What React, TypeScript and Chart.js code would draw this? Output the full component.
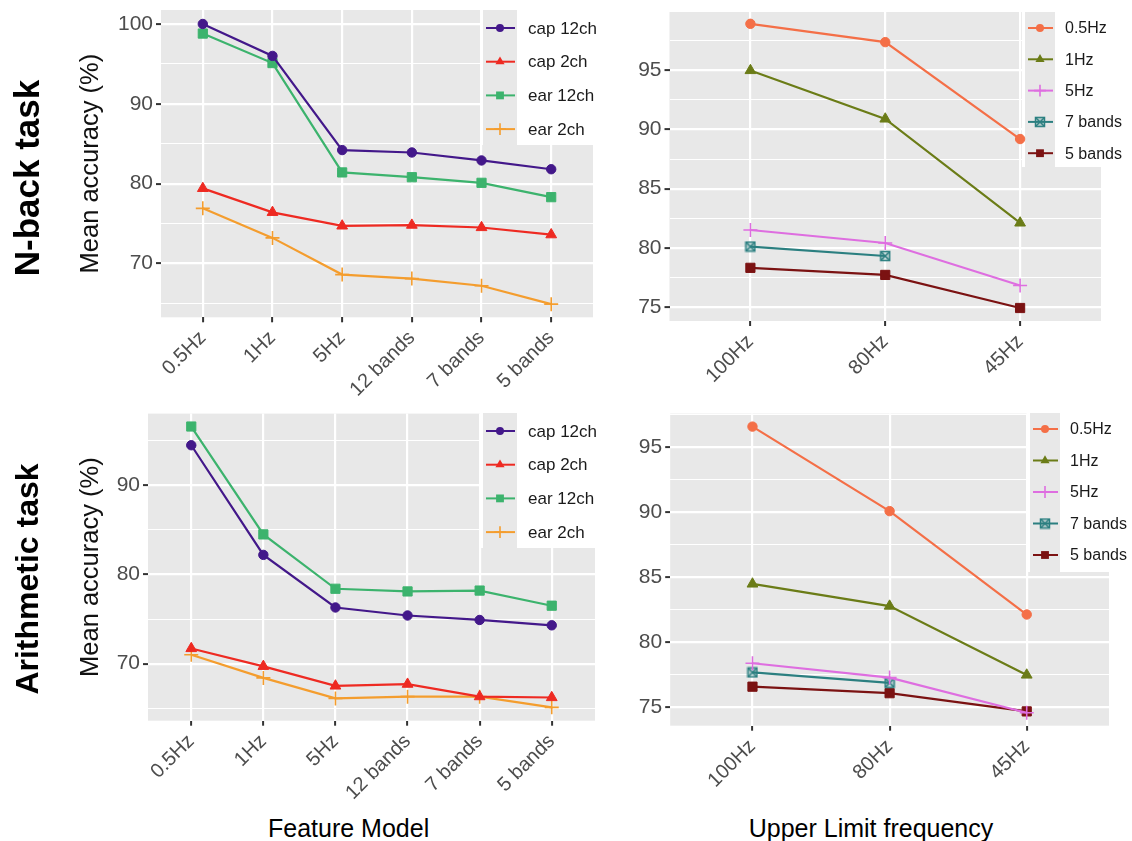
import React, { useEffect, useRef } from 'react';
import { Chart, registerables } from 'chart.js';

Chart.register(...registerables);

// ---------------- data ----------------
const FEATURE_MODELS = ['0.5Hz', '1Hz', '5Hz', '12 bands', '7 bands', '5 bands'];
const UPPER_LIMITS = ['100Hz', '80Hz', '45Hz'];

const CHANNEL_SERIES = ['cap 12ch', 'cap 2ch', 'ear 12ch', 'ear 2ch'];
const BAND_SERIES = ['0.5Hz', '1Hz', '5Hz', '7 bands', '5 bands'];

// N-back task, by feature model
const nbackCap12 = [100.0, 96.0, 84.2, 83.9, 82.9, 81.8];
const nbackCap2 = [79.4, 76.4, 74.7, 74.8, 74.5, 73.6];
const nbackEar12 = [98.8, 95.1, 81.4, 80.8, 80.1, 78.3];
const nbackEar2 = [76.9, 73.2, 68.6, 68.1, 67.2, 64.9];

// N-back task, by upper limit frequency
const nback05Hz = [98.95, 97.4, 89.2];
const nback1Hz = [95.0, 90.9, 82.1];
const nback5Hz = [81.5, 80.4, 76.8];
const nback7Bands = [80.1, 79.3, null];
const nback5Bands = [78.3, 77.7, 74.9];

// Arithmetic task, by feature model
const arithCap12 = [94.5, 82.2, 76.3, 75.4, 74.9, 74.3];
const arithCap2 = [71.7, 69.7, 67.5, 67.7, 66.3, 66.2];
const arithEar12 = [96.6, 84.5, 78.4, 78.1, 78.2, 76.5];
const arithEar2 = [71.0, 68.4, 66.1, 66.3, 66.3, 65.1];

// Arithmetic task, by upper limit frequency
const arith05Hz = [96.6, 90.1, 82.15];
const arith1Hz = [84.5, 82.8, 77.5];
const arith5Hz = [78.4, 77.3, 74.6];
const arith7Bands = [77.7, 76.9, null];
const arith5Bands = [76.6, 76.1, 74.7];

const ROW_TITLES = ['N-back task', 'Arithmetic task'];
const X_TITLES = ['Feature Model', 'Upper Limit frequency'];
const Y_TITLE = 'Mean accuracy (%)';

// ---------------- styles ----------------
const CHANNEL_COLORS = ['#43188a', '#ee2a22', '#3cb36d', '#f49d2e'];
const BAND_COLORS = ['#f46f47', '#6b7c17', '#de6ee0', '#2b7f80', '#7b1212'];
const CHANNEL_MARKERS = ['circle', 'triangle', 'rect', 'cross'];
const BAND_MARKERS = ['circle', 'triangle', 'cross', 'boxX', 'rect'];
const MARKER_RADIUS: Record<string, number> = { circle: 4.7, triangle: 6.2, rect: 6.5, cross: 7, boxX: 5 };

const FONT = '"Liberation Sans", Arial, Helvetica, sans-serif';
const PANEL_BG = '#e8e8e8';

function makeBoxX(color: string): HTMLCanvasElement {
  const c = document.createElement('canvas');
  c.width = 12;
  c.height = 12;
  const g = c.getContext('2d')!;
  g.strokeStyle = color;
  g.lineWidth = 1.5;
  g.fillStyle = 'rgba(43,127,128,0.25)';
  g.fillRect(1.5, 1.5, 9, 9);
  g.strokeRect(1.5, 1.5, 9, 9);
  g.beginPath();
  g.moveTo(1.5, 1.5);
  g.lineTo(10.5, 10.5);
  g.moveTo(10.5, 1.5);
  g.lineTo(1.5, 10.5);
  g.stroke();
  return c;
}

function drawMarker(ctx: CanvasRenderingContext2D, name: string, x: number, y: number, r: number, color: string, img?: HTMLCanvasElement) {
  ctx.save();
  ctx.fillStyle = color;
  ctx.strokeStyle = color;
  ctx.beginPath();
  if (name === 'circle') {
    ctx.arc(x, y, r, 0, Math.PI * 2);
    ctx.fill();
  } else if (name === 'triangle') {
    ctx.moveTo(x, y - r);
    ctx.lineTo(x + 0.866 * r, y + 0.5 * r);
    ctx.lineTo(x - 0.866 * r, y + 0.5 * r);
    ctx.closePath();
    ctx.fill();
  } else if (name === 'rect') {
    const s = r * Math.SQRT1_2;
    ctx.fillRect(x - s, y - s, 2 * s, 2 * s);
  } else if (name === 'cross') {
    ctx.lineWidth = 1.6;
    ctx.moveTo(x - r, y);
    ctx.lineTo(x + r, y);
    ctx.moveTo(x, y - r);
    ctx.lineTo(x, y + r);
    ctx.stroke();
  } else if (name === 'boxX' && img) {
    ctx.drawImage(img, x - img.width / 2, y - img.height / 2);
  }
  ctx.restore();
}

const ggBackground = {
  id: 'ggBackground',
  beforeDraw(chart: any) {
    const { ctx, chartArea } = chart;
    if (!chartArea) return;
    ctx.save();
    ctx.fillStyle = PANEL_BG;
    ctx.fillRect(chartArea.left, chartArea.top, chartArea.right - chartArea.left, chartArea.bottom - chartArea.top);
    ctx.restore();
  },
};

const ggLegend = {
  id: 'ggLegend',
  beforeDatasetsDraw(chart: any, _args: any, opts: any) {
    if (!opts || opts.boxLeft === undefined) return;
    const ctx: CanvasRenderingContext2D = chart.ctx;
    ctx.save();
    ctx.fillStyle = '#ffffff';
    ctx.fillRect(opts.boxLeft, opts.top, chart.width - opts.boxLeft, opts.bottom - opts.top);
    ctx.fillStyle = PANEL_BG;
    ctx.fillRect(opts.keyLeft, opts.top, opts.keyRight - opts.keyLeft, opts.bottom - opts.top);
    chart.data.datasets.forEach((ds: any, i: number) => {
      const y = opts.firstRow + i * opts.rowH;
      ctx.strokeStyle = ds.borderColor;
      ctx.lineWidth = 2;
      ctx.beginPath();
      ctx.moveTo(opts.keyLeft + 3, y);
      ctx.lineTo(opts.keyRight - 2, y);
      ctx.stroke();
      const cx = (opts.keyLeft + opts.keyRight) / 2;
      drawMarker(ctx, ds.markerName, cx, y, ds.pointRadius * 0.85, ds.borderColor, ds.markerName === 'boxX' ? ds.pointStyle : undefined);
      ctx.fillStyle = '#1a1a1a';
      ctx.font = `${opts.fontSize}px ${FONT}`;
      ctx.textAlign = 'left';
      ctx.textBaseline = 'middle';
      ctx.fillText(ds.label, opts.textX, y + 1);
    });
    ctx.restore();
  },
};

type PanelCfg = {
  canvas: { left: number; top: number; w: number; h: number };
  area: { l: number; t: number; r: number; b: number };
  legend: { boxLeft: number; keyLeft: number; keyRight: number; top: number; bottom: number; firstRow: number; rowH: number; textX: number; fontSize: number };
  categories: string[];
  seriesNames: string[];
  seriesValues: (number | null)[][];
  colors: string[];
  markers: string[];
  yMin: number;
  yMax: number;
  yStep: number;
  yMajor: number;
  yTitleX: number | null;
};

const PANELS: PanelCfg[] = [
  {
    canvas: { left: 0, top: 0, w: 610, h: 405 },
    area: { l: 161, t: 10, r: 593, b: 317.3 },
    legend: { boxLeft: 480, keyLeft: 483, keyRight: 517, top: 10, bottom: 145, firstRow: 28, rowH: 33.7, textX: 528, fontSize: 17 },
    categories: FEATURE_MODELS,
    seriesNames: CHANNEL_SERIES,
    seriesValues: [nbackCap12, nbackCap2, nbackEar12, nbackEar2],
    colors: CHANNEL_COLORS,
    markers: CHANNEL_MARKERS,
    yMin: 63.25,
    yMax: 101.75,
    yStep: 5,
    yMajor: 10,
    yTitleX: 91,
  },
  {
    canvas: { left: 600, top: 0, w: 532, h: 405 },
    area: { l: 669.5, t: 12, r: 1101, b: 321 },
    legend: { boxLeft: 1022, keyLeft: 1025, keyRight: 1055, top: 12, bottom: 167, firstRow: 28, rowH: 31.3, textX: 1065, fontSize: 16 },
    categories: UPPER_LIMITS,
    seriesNames: BAND_SERIES,
    seriesValues: [nback05Hz, nback1Hz, nback5Hz, nback7Bands, nback5Bands],
    colors: BAND_COLORS,
    markers: BAND_MARKERS,
    yMin: 73.8,
    yMax: 99.95,
    yStep: 2.5,
    yMajor: 5,
    yTitleX: null,
  },
  {
    canvas: { left: 0, top: 405, w: 610, h: 400 },
    area: { l: 148, t: 412.3, r: 595, b: 720.7 },
    legend: { boxLeft: 480, keyLeft: 483, keyRight: 517, top: 413, bottom: 548, firstRow: 431, rowH: 33.7, textX: 528, fontSize: 17 },
    categories: FEATURE_MODELS,
    seriesNames: CHANNEL_SERIES,
    seriesValues: [arithCap12, arithCap2, arithEar12, arithEar2],
    colors: CHANNEL_COLORS,
    markers: CHANNEL_MARKERS,
    yMin: 63.6,
    yMax: 98.05,
    yStep: 5,
    yMajor: 10,
    yTitleX: 90.6,
  },
  {
    canvas: { left: 600, top: 405, w: 532, h: 400 },
    area: { l: 670.2, t: 413.3, r: 1109, b: 725.7 },
    legend: { boxLeft: 1027, keyLeft: 1030, keyRight: 1060, top: 413, bottom: 572, firstRow: 429, rowH: 31.5, textX: 1070, fontSize: 16 },
    categories: UPPER_LIMITS,
    seriesNames: BAND_SERIES,
    seriesValues: [arith05Hz, arith1Hz, arith5Hz, arith7Bands, arith5Bands],
    colors: BAND_COLORS,
    markers: BAND_MARKERS,
    yMin: 73.6,
    yMax: 97.6,
    yStep: 2.5,
    yMajor: 5,
    yTitleX: null,
  },
];

function buildConfig(cfg: PanelCfg): any {
  const { canvas, area, legend } = cfg;
  const areaL = area.l - canvas.left;
  const areaT = area.t - canvas.top;
  const areaR = area.r - canvas.left;
  const areaB = area.b - canvas.top;
  const yWidth = areaL;
  const xHeight = canvas.h - areaB;
  const isMajor = (v: number) => Math.abs(v / cfg.yMajor - Math.round(v / cfg.yMajor)) < 1e-6;
  const boxX = makeBoxX(BAND_COLORS[3]);
  const titleFont = 25.5;
  const titleLH = titleFont * 1.2;

  const datasets = cfg.seriesNames.map((name, i) => {
    const m = cfg.markers[i];
    return {
      label: name,
      data: cfg.seriesValues[i].map((v, j) => ({ x: j, y: v })),
      borderColor: cfg.colors[i],
      backgroundColor: cfg.colors[i],
      pointBackgroundColor: cfg.colors[i],
      pointBorderColor: cfg.colors[i],
      borderWidth: 2.2,
      pointStyle: m === 'boxX' ? boxX : m,
      markerName: m,
      pointRadius: MARKER_RADIUS[m],
      pointBorderWidth: m === 'cross' ? 1.6 : 1,
      tension: 0,
      spanGaps: false,
    };
  });

  const legendOpts = {
    boxLeft: legend.boxLeft - canvas.left,
    keyLeft: legend.keyLeft - canvas.left,
    keyRight: legend.keyRight - canvas.left,
    top: legend.top - canvas.top,
    bottom: legend.bottom - canvas.top,
    firstRow: legend.firstRow - canvas.top,
    rowH: legend.rowH,
    textX: legend.textX - canvas.left,
    fontSize: legend.fontSize,
  };

  const zeroPad = (s: any) => {
    s.paddingTop = 0;
    s.paddingBottom = 0;
    s.paddingLeft = 0;
    s.paddingRight = 0;
  };

  return {
    type: 'line',
    data: { datasets },
    plugins: [ggBackground, ggLegend],
    options: {
      responsive: false,
      animation: false,
      devicePixelRatio: 1,
      events: [],
      layout: { padding: { left: 0, top: areaT, right: canvas.w - areaR, bottom: 0 } },
      plugins: {
        legend: { display: false },
        tooltip: { enabled: false },
        ggLegend: legendOpts,
      },
      scales: {
        x: {
          type: 'linear',
          min: -0.6,
          max: cfg.categories.length - 1 + 0.6,
          afterFit: (s: any) => {
            s.height = xHeight;
            zeroPad(s);
          },
          ticks: {
            stepSize: 1,
            includeBounds: false,
            autoSkip: false,
            minRotation: 45,
            maxRotation: 45,
            padding: 4,
            color: '#4d4d4d',
            font: { family: FONT, size: 20 },
            callback: (v: number) => {
              const k = Math.round(v);
              return Math.abs(v - k) < 1e-6 && cfg.categories[k] !== undefined ? cfg.categories[k] : '';
            },
          },
          grid: {
            color: '#ffffff',
            lineWidth: 2.2,
            drawTicks: true,
            tickLength: 5,
            tickColor: '#333333',
            tickWidth: 2,
          },
          border: { display: false },
        },
        y: {
          type: 'linear',
          min: cfg.yMin,
          max: cfg.yMax,
          afterFit: (s: any) => {
            s.width = yWidth;
            zeroPad(s);
          },
          ticks: {
            stepSize: cfg.yStep,
            includeBounds: false,
            autoSkip: false,
            padding: 3,
            color: '#4d4d4d',
            font: { family: FONT, size: 21 },
            callback: (v: number) => (isMajor(v) ? String(Math.round(v)) : ''),
          },
          grid: {
            color: '#ffffff',
            lineWidth: (c: any) => (c.tick && isMajor(c.tick.value) ? 2.2 : 1.1),
            drawTicks: true,
            tickLength: 5,
            tickColor: (c: any) => (c.tick && isMajor(c.tick.value) ? '#333333' : 'rgba(0,0,0,0)'),
            tickWidth: 2,
          },
          border: { display: false },
          title: {
            display: cfg.yTitleX !== null,
            text: Y_TITLE,
            color: '#111111',
            font: { family: FONT, size: titleFont, lineHeight: 1.2 },
            padding: { top: cfg.yTitleX !== null ? cfg.yTitleX - canvas.left - titleLH / 2 : 0, bottom: 0 },
          },
        },
      },
    },
  };
}

function Panel({ cfg }: { cfg: PanelCfg }) {
  const ref = useRef<HTMLCanvasElement>(null);
  useEffect(() => {
    if (!ref.current) return;
    const chart = new Chart(ref.current, buildConfig(cfg));
    return () => chart.destroy();
  }, [cfg]);
  return (
    <canvas
      ref={ref}
      width={cfg.canvas.w}
      height={cfg.canvas.h}
      style={{ position: 'absolute', left: cfg.canvas.left, top: cfg.canvas.top, width: cfg.canvas.w, height: cfg.canvas.h }}
    />
  );
}

const textBase: React.CSSProperties = {
  position: 'absolute',
  whiteSpace: 'nowrap',
  fontFamily: FONT,
  lineHeight: 1,
  color: '#000',
};

export default function App() {
  return (
    <div style={{ position: 'absolute', left: 0, top: 0, width: 1132, height: 841, background: '#fff', overflow: 'hidden' }}>
      {PANELS.map((p, i) => (
        <Panel key={i} cfg={p} />
      ))}
      <div style={{ ...textBase, left: 26, top: 177.5, fontSize: 35, fontWeight: 'bold', transform: 'translate(-50%, -50%) rotate(-90deg)' }}>
        {ROW_TITLES[0]}
      </div>
      <div style={{ ...textBase, left: 27, top: 579, fontSize: 32, fontWeight: 'bold', transform: 'translate(-50%, -50%) rotate(-90deg)' }}>
        {ROW_TITLES[1]}
      </div>
      <div style={{ ...textBase, left: 348.6, top: 828, fontSize: 25, transform: 'translate(-50%, -50%)' }}>{X_TITLES[0]}</div>
      <div style={{ ...textBase, left: 871, top: 828, fontSize: 25, transform: 'translate(-50%, -50%)' }}>{X_TITLES[1]}</div>
    </div>
  );
}
